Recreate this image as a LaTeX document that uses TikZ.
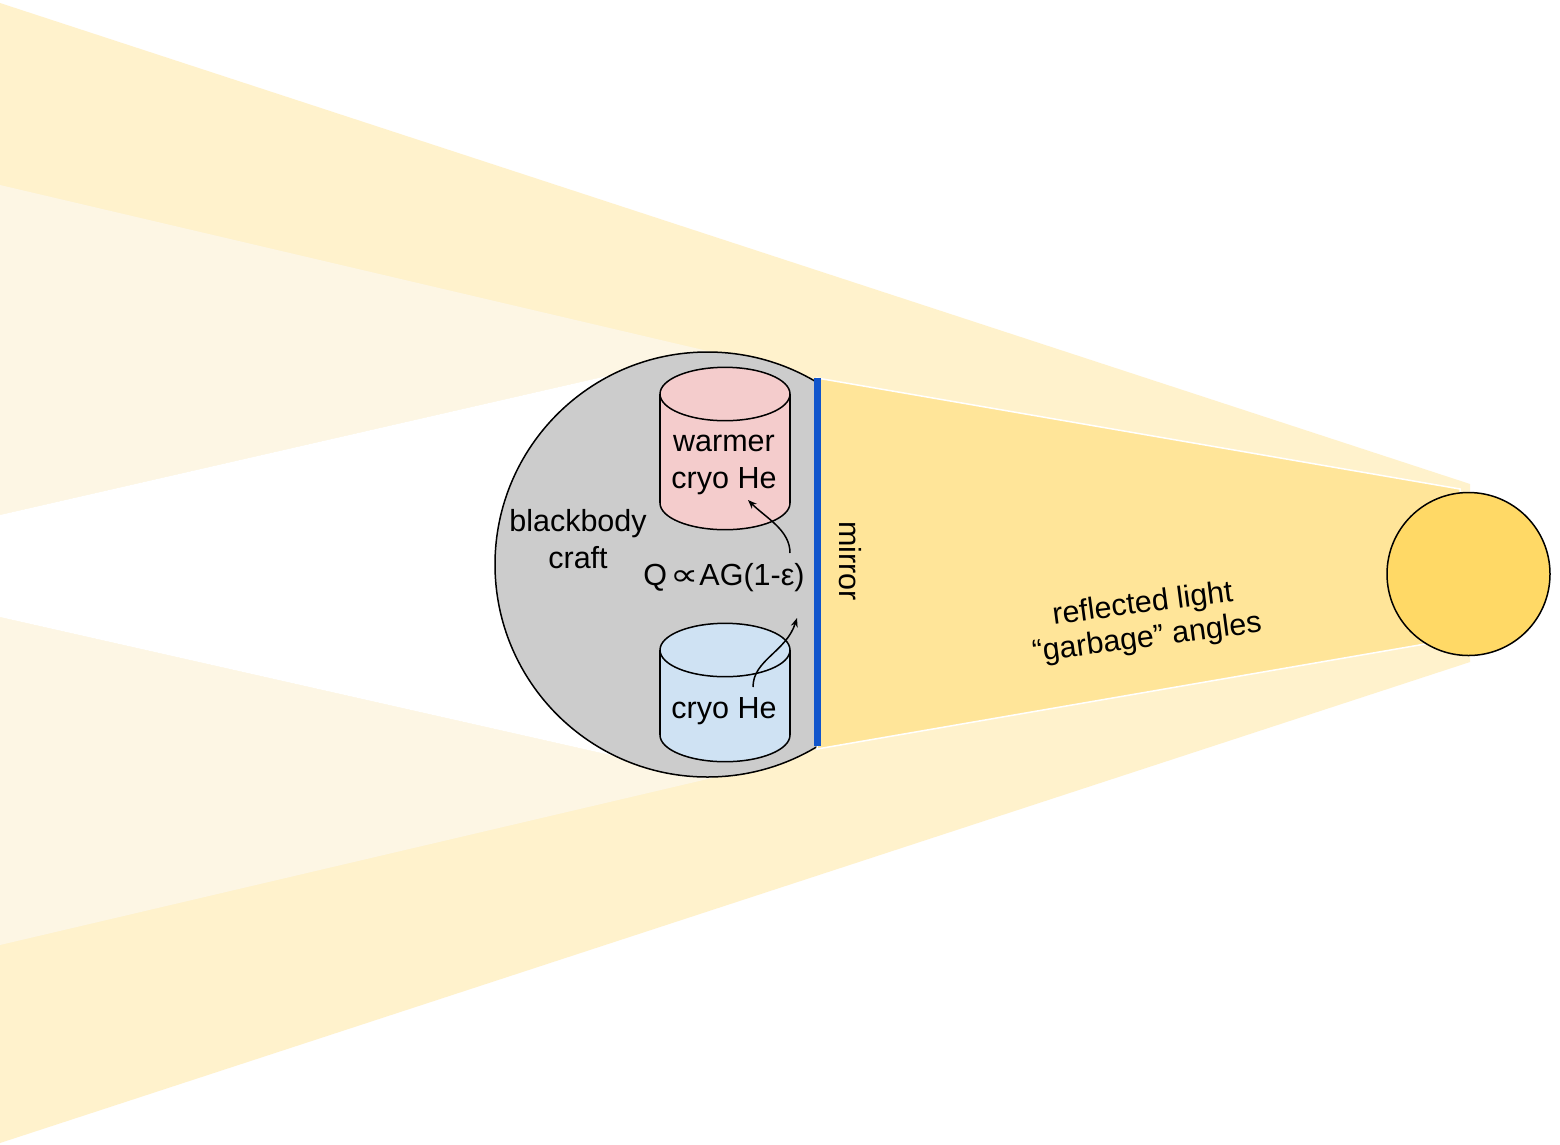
\documentclass[tikz,border=0pt]{standalone}
\usepackage{fontspec}
\usepackage{graphicx}
\setmainfont{Liberation Sans}
\newfontfamily\symfont{DejaVu Sans}
\usetikzlibrary{arrows.meta}
\definecolor{lightband}{HTML}{FFF2CC}
\definecolor{paleband}{HTML}{FDF6E4}
\definecolor{reflband}{HTML}{FFE599}
\definecolor{sunfill}{HTML}{FFD966}
\definecolor{craftgray}{HTML}{CCCCCC}
\definecolor{warmfill}{HTML}{F4CCCC}
\definecolor{coldfill}{HTML}{CFE2F3}
\definecolor{mirrorblue}{HTML}{1155CC}
\tikzset{
  lbl/.style={font=\fontsize{30.5}{36.5}\selectfont, inner sep=0pt, align=center},
  outline/.style={draw=black, line width=1.5pt},
  heatarrow/.style={line width=1.5pt, -{Stealth[length=9pt,width=7pt]}},
}
\begin{document}
\begin{tikzpicture}[x=1pt,y=-1pt]
\useasboundingbox (0,0) rectangle (1560,1144);
\fill[white] (0,0) rectangle (1560,1144);
% full light band
\fill[lightband] (0,3) -- (1470,484) -- (1470,662) -- (0,1143) -- cycle;
% penumbra
\fill[paleband] (0,185) -- (712,352) -- (0,515) -- cycle;
\fill[paleband] (0,617) -- (712,778) -- (0,945) -- cycle;
% umbra
\fill[white] (0,515) -- (712,352) -- (712,778) -- (0,617) -- cycle;
% craft
\begin{scope}
\clip (0,0) rectangle (817,1144);
\draw[outline, fill=craftgray] (707.5,564.5) circle (212.5);
\end{scope}
% warm cylinder
\draw[outline, fill=warmfill] (725,503) ellipse [x radius=65, y radius=26.7];
\fill[warmfill] (660,394) rectangle (790,503);
\draw[outline] (660,394) -- (660,503) (790,394) -- (790,503);
\draw[outline, fill=warmfill] (725,394) ellipse [x radius=65, y radius=26.7];
% cold cylinder
\draw[outline, fill=coldfill] (725,735) ellipse [x radius=65, y radius=26.7];
\fill[coldfill] (660,650) rectangle (790,735);
\draw[outline] (660,650) -- (660,735) (790,650) -- (790,735);
\draw[outline, fill=coldfill] (725,650) ellipse [x radius=65, y radius=26.7];
% reflected band
\filldraw[fill=reflband, draw=white, line width=1.5pt] (817,378) -- (1460,489) -- (1460,638) -- (817,749) -- cycle;
% mirror
\draw[mirrorblue, line width=6.4pt] (817.5,378) -- (817.5,746);
% sun
\node[circle, outline, fill=sunfill, minimum size=163pt, inner sep=0pt] (sun) at (1468.5,574) {};
% texts (base anchor = baseline of the last line)
\node[lbl, anchor=base] (warm) at (724,488) {warmer\\cryo He};
\node[lbl, anchor=base] (craft) at (578,568) {blackbody\\craft};
\node[lbl, anchor=base] (heat) at (724,585) {Q\hspace{3pt}\scalebox{1.3}[1]{\symfont ∝}\hspace{1pt}AG(1-ε)};
\node[lbl, anchor=base] (cold) at (724,718) {cryo He};
\node[lbl, rotate=-90] (mirror) at (850,561) {mirror};
\node[lbl, rotate=7.5, font=\fontsize{30.5}{34.5}\selectfont] (refl) at (1145,622) {reflected light\\“garbage” angles};
% heat flow arrows
\coordinate (a1s) at (790,553);
\coordinate (a1e) at (748,500);
\coordinate (a2s) at (753,687);
\coordinate (a2e) at (797,618);
\draw[heatarrow] (a1s) .. controls (790,530) and (766,518) .. (a1e);
\draw[heatarrow] (a2s) .. controls (753,660) and (786,652) .. (a2e);
\end{tikzpicture}
\end{document}
